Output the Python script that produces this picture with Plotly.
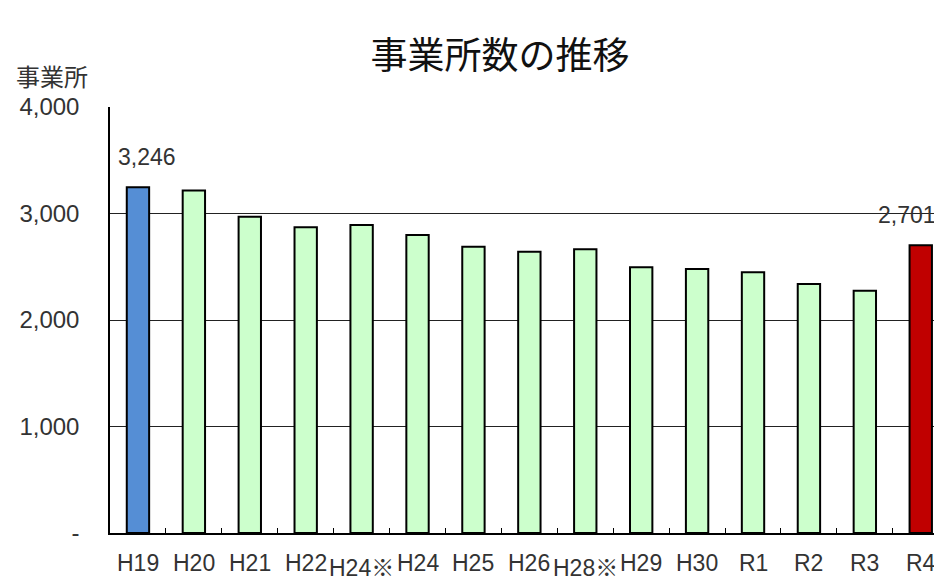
import plotly.graph_objects as go

categories = ["H19", "H20", "H21", "H22", "H24※", "H24", "H25", "H26", "H28※",
              "H29", "H30", "R1", "R2", "R3", "R4"]
values = [3246, 3215, 2970, 2870, 2892, 2798, 2688, 2641, 2664,
          2495, 2479, 2448, 2338, 2275, 2701]
staggered = [False, False, False, False, True, False, False, False, True,
             False, False, False, False, False, False]
labelled = {0: 9, 14: -14}   # index -> x shift of value label
y_tickvals = [0, 1000, 2000, 3000, 4000]
y_ticktext = ["-", "1,000", "2,000", "3,000", "4,000"]

colors = ["#558ED5"] + ["#CCFFCC"] * (len(categories) - 2) + ["#C00000"]

JP = "Noto Sans CJK JP, Noto Sans, sans-serif"
TXT = "Liberation Sans, Arial, Noto Sans CJK JP, sans-serif"

# page body has an 8px margin: figure origin sits at (8, 8) in the window
W, H = 934, 573
L, T, B = 102, 99, 48

fig = go.Figure()
fig.add_trace(go.Bar(
    x=categories, y=values,
    marker=dict(color=colors, line=dict(color="#000000", width=2)),
    width=0.4, hoverinfo="x+y",
))

annotations = []
for i, (c, st) in enumerate(zip(categories, staggered)):
    annotations.append(dict(
        x=c, xref="x", y=0, yref="paper", yanchor="top", xanchor="center",
        yshift=-15 - (5 if st else 0), text=c, showarrow=False,
        font=dict(family=TXT, size=23, color="#333333")))
for i, xs in labelled.items():
    annotations.append(dict(
        x=categories[i], xref="x", y=values[i], yref="y", yanchor="bottom",
        xanchor="center", yshift=15, xshift=xs,
        text=f"{values[i]:,}", showarrow=False,
        font=dict(family=TXT, size=23, color="#333333")))
annotations.append(dict(
    x=(14 - 110) / 832, xref="paper", xanchor="left", y=(533 - 76) / 426, yref="paper",
    yanchor="middle", text="事業所", showarrow=False,
    font=dict(family=JP, size=24, color="#333333")))

fig.update_layout(
    width=W, height=H,
    margin=dict(l=L, r=0, t=T, b=B),
    paper_bgcolor="white", plot_bgcolor="white",
    showlegend=False,
    title=dict(text="事業所数の推移", x=(500 - 8) / W, xref="container", xanchor="center",
               y=1 - (56 - 8) / H, yref="container", yanchor="middle",
               font=dict(family=JP, size=37, color="#111111")),
    annotations=annotations,
    bargap=0.6,
)
fig.update_xaxes(
    type="category", range=[-0.5, 14.38], showticklabels=False,
    ticks="inside", tickson="boundaries", ticklen=5, tickcolor="#000000",
    showline=True, linecolor="#000000", linewidth=1.5, showgrid=False,
)
fig.update_yaxes(
    range=[0, 4000], tickvals=y_tickvals, ticktext=y_ticktext,
    showgrid=True, gridcolor="#222222", gridwidth=1.2,
    showline=True, linecolor="#000000", linewidth=1.5,
    ticks="", ticklabelstandoff=24, zeroline=False,
    tickfont=dict(family=TXT, size=24, color="#333333"),
)
fig.write_html("out.html")
